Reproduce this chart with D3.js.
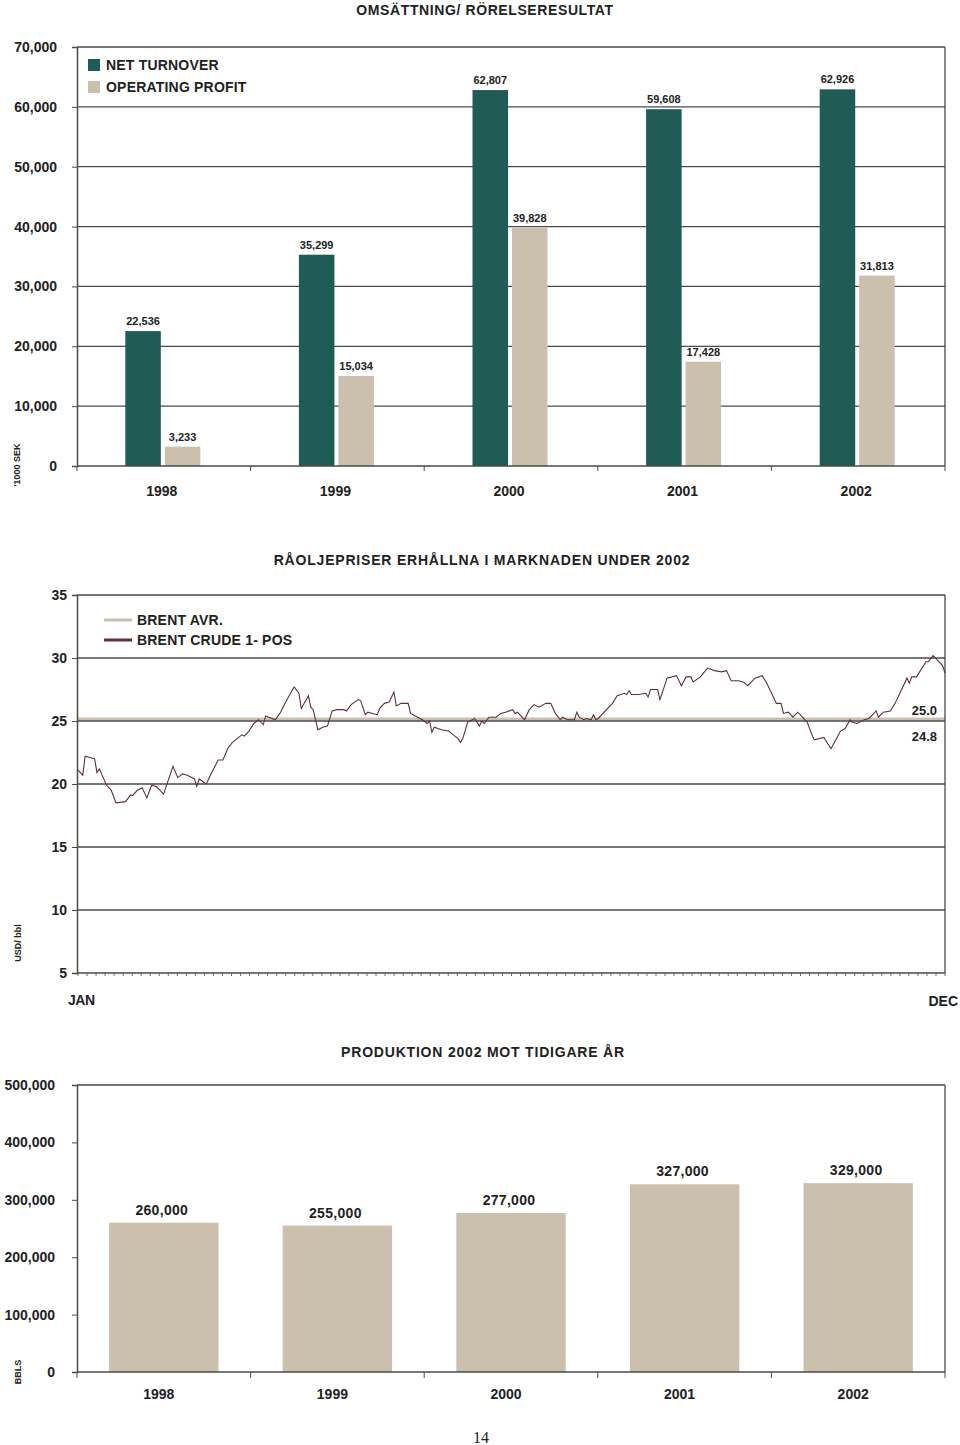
<!DOCTYPE html>
<html><head><meta charset="utf-8">
<script src="https://cdn.jsdelivr.net/npm/d3@7"></script>
<style>
body{margin:0;background:#fff;}
svg text{font-family:"Liberation Sans",Arial,Helvetica,sans-serif;font-weight:bold;fill:#222;}
</style></head>
<body><svg id="c" width="960" height="1445"></svg>
<script>
// ---------- data ----------
const years = ["1998","1999","2000","2001","2002"];
const netTurnover = [22536, 35299, 62807, 59608, 62926];
const operatingProfit = [3233, 15034, 39828, 17428, 31813];
const seriesNames = ["NET TURNOVER","OPERATING PROFIT"];
const turnoverTicks = [0,10000,20000,30000,40000,50000,60000,70000];

const priceTicks = [5,10,15,20,25,30,35];
const brentAvr = 25.0;
const crudeAvg = 24.8;
const priceDays = [0,2,3,5,7,8,9,12,14,16,20,22,23,25,27,29,31,33,36,40,42,44,46,49,50,51,54,56,59,61,63,65,67,69,70,72,74,76,78,79,83,85,88,91,93,94,97,98,99,101,103,105,107,109,112,113,115,118,119,121,122,124,126,127,129,131,133,134,136,139,140,143,145,147,148,149,150,153,156,158,160,161,162,164,166,167,169,170,171,173,176,178,180,183,184,185,188,190,192,194,197,199,200,201,203,204,206,209,210,211,213,214,216,217,218,219,223,225,227,230,231,232,233,235,236,239,240,241,244,245,248,252,254,256,258,259,262,265,268,271,273,275,278,280,282,285,288,290,292,294,296,297,299,301,303,305,307,309,310,314,317,319,321,323,325,326,328,331,333,336,337,339,342,344,346,349,350,351,353,357,358,360,362,364,365];
const priceValues = [21.1,20.7,22.2,22.1,22.0,20.9,21.2,19.9,19.5,18.5,18.6,19.1,19.1,19.5,19.7,18.9,19.9,19.8,19.2,21.4,20.5,20.8,20.7,20.4,19.8,20.4,20.0,20.8,21.9,21.9,22.8,23.3,23.6,23.9,23.8,24.2,24.8,25.1,24.7,25.4,25.1,25.6,26.7,27.7,27.2,26.0,27.0,26.1,25.9,24.3,24.5,24.6,25.8,25.9,25.9,25.8,26.3,26.7,26.6,25.5,25.7,25.6,25.5,26.0,26.4,26.5,27.3,26.2,26.4,26.4,25.6,25.3,25.1,24.8,25.0,24.1,24.5,24.3,24.2,23.9,23.6,23.3,23.6,24.9,25.1,25.2,24.6,25.0,24.8,25.3,25.3,25.6,25.7,25.9,25.6,25.7,25.1,25.9,26.3,26.1,26.4,26.4,26.0,25.6,25.1,25.3,25.1,25.1,25.7,25.3,25.1,25.2,25.1,25.5,25.1,25.2,26.0,26.4,27.0,27.2,27.1,27.4,27.1,27.1,27.1,27.2,26.9,27.5,27.5,26.7,28.4,28.6,27.8,28.5,28.5,28.1,28.5,29.2,29.0,28.9,29.0,28.2,28.2,28.1,27.8,28.4,28.6,28.0,27.2,26.4,26.4,25.6,25.7,25.3,25.7,25.3,24.9,23.9,23.5,23.7,22.8,23.5,24.2,24.4,25.1,24.9,24.8,25.1,25.2,25.8,25.3,25.7,25.8,26.4,27.2,28.4,28.0,28.5,28.5,29.7,29.7,30.2,29.8,29.4,28.8];
const priceSeriesNames = ["BRENT AVR.","BRENT CRUDE 1- POS"];

const production = [260000, 255000, 277000, 327000, 329000];
const productionTicks = [0,100000,200000,300000,400000,500000];

// ---------- styles ----------
const GREEN = "#1f5c55", BEIGE = "#cbc0ae", MAROON = "#5e3236", GRID = "#4a4a4a";
const svg = d3.select("#c");
const fmt = d3.format(",");
const L = 77, R = 945;

// ================= Chart 1 =================
{
  const top = 47, bot = 466;
  const y = d3.scaleLinear().domain([0,70000]).range([bot, top]);
  const x = d3.scaleBand().domain(years).range([L, R]);
  const xi = d3.scaleBand().domain(seriesNames).range([-38.5, 36.5]).paddingInner(0.1);
  const g = svg.append("g");
  g.append("text").attr("x", 485).attr("y", 15).attr("text-anchor","middle").attr("font-size",14).attr("letter-spacing","0.6").text("OMSÄTTNING/ RÖRELSERESULTAT");
  // grid
  g.selectAll(".gl").data(turnoverTicks.filter(d=>d>0)).join("line")
    .attr("x1", L).attr("x2", R).attr("y1", d=>y(d)).attr("y2", d=>y(d))
    .attr("stroke", GRID).attr("stroke-width", 1.3);
  // y axis
  const ya = g.append("g").attr("transform",`translate(${L},0)`).call(d3.axisLeft(y).tickValues(turnoverTicks).tickFormat(fmt).tickSize(5).tickPadding(15));
  ya.select(".domain").attr("stroke", GRID).attr("stroke-width",1.5);
  ya.selectAll(".tick line").attr("stroke", GRID);
  ya.selectAll("text").attr("font-size",14).attr("fill","#222").attr("font-family","Liberation Sans, Arial").attr("font-weight","bold");
  // right border
  g.append("line").attr("x1",R).attr("x2",R).attr("y1",top).attr("y2",bot).attr("stroke",GRID).attr("stroke-width",1.3);
  // bars
  const data = years.map((yr,i)=>({yr, vals:[{s:seriesNames[0], v:netTurnover[i]},{s:seriesNames[1], v:operatingProfit[i]}]}));
  const grp = g.selectAll(".yr").data(data).join("g").attr("transform", d=>`translate(${x(d.yr)+x.bandwidth()/2},0)`);
  grp.selectAll("rect").data(d=>d.vals).join("rect")
    .attr("x", d=>xi(d.s)).attr("width", xi.bandwidth())
    .attr("y", d=>y(d.v)).attr("height", d=>bot - y(d.v))
    .attr("fill", d=>d.s===seriesNames[0]?GREEN:BEIGE);
  grp.selectAll("text").data(d=>d.vals).join("text")
    .attr("x", d=>xi(d.s)+xi.bandwidth()/2).attr("y", d=>y(d.v)-6)
    .attr("text-anchor","middle").attr("font-size",11).text(d=>fmt(d.v));
  // x axis
  const xa = g.append("g").attr("transform",`translate(0,${bot})`);
  xa.append("line").attr("x1",L).attr("x2",R).attr("stroke",GRID).attr("stroke-width",1.5);
  xa.selectAll(".tk").data(years.concat(["end"])).join("line")
    .attr("x1",(d,i)=>L + i*x.step()).attr("x2",(d,i)=>L + i*x.step()).attr("y1",0).attr("y2",5).attr("stroke",GRID);
  xa.selectAll(".lb").data(years).join("text").attr("x", d=>x(d)+x.bandwidth()/2 - 2).attr("y", 30)
    .attr("text-anchor","middle").attr("font-size",14).text(d=>d);
  // legend
  seriesNames.forEach((s,i)=>{
    g.append("rect").attr("x",88).attr("y",59+i*22).attr("width",12).attr("height",12).attr("fill", i===0?GREEN:BEIGE);
    g.append("text").attr("x",106).attr("y",70+i*22).attr("font-size",14).attr("letter-spacing","0.2").text(s);
  });
  g.append("text").attr("transform","translate(20,465) rotate(-90)").attr("text-anchor","middle").attr("font-size",9).text("'1000 SEK");
}

// ================= Chart 2 =================
{
  const top = 595, bot = 973;
  const y = d3.scaleLinear().domain([5,35]).range([bot, top]);
  const x = d3.scaleLinear().domain([0,365]).range([L+1, R]);
  const g = svg.append("g");
  g.append("text").attr("x", 482).attr("y", 565).attr("text-anchor","middle").attr("font-size",14).attr("letter-spacing","0.8").text("RÅOLJEPRISER ERHÅLLNA I MARKNADEN UNDER 2002");
  // average line (beige)
  g.append("line").attr("x1",L).attr("x2",R).attr("y1",y(brentAvr)-2).attr("y2",y(brentAvr)-2).attr("stroke",BEIGE).attr("stroke-width",3);
  // grid
  g.selectAll(".gl").data(priceTicks.filter(d=>d>5)).join("line")
    .attr("x1", L).attr("x2", R).attr("y1", d=>y(d)).attr("y2", d=>y(d))
    .attr("stroke", GRID).attr("stroke-width", 1.3);
  const ya = g.append("g").attr("transform",`translate(${L},0)`).call(d3.axisLeft(y).tickValues(priceTicks).tickSize(5).tickPadding(5));
  ya.select(".domain").attr("stroke", GRID).attr("stroke-width",1.5);
  ya.selectAll(".tick line").attr("stroke", GRID);
  ya.selectAll("text").attr("font-size",14).attr("fill","#222").attr("font-family","Liberation Sans, Arial").attr("font-weight","bold");
  g.append("line").attr("x1",R).attr("x2",R).attr("y1",top).attr("y2",bot).attr("stroke",GRID).attr("stroke-width",1.3);
  // bottom axis with minor ticks
  g.append("line").attr("x1",L).attr("x2",R).attr("y1",bot).attr("y2",bot).attr("stroke",GRID).attr("stroke-width",1.5);
  g.selectAll(".mt").data(d3.range(0,366,365/96)).join("line")
    .attr("x1",d=>x(d)).attr("x2",d=>x(d)).attr("y1",bot).attr("y2",bot+3).attr("stroke",GRID).attr("stroke-width",0.8);
  g.append("text").attr("x",68).attr("y",1005).attr("font-size",14).attr("font-family","Liberation Sans Narrow, Arial Narrow, Liberation Sans").attr("letter-spacing","-0.5").text("JAN");
  g.append("text").attr("x",958).attr("y",1006).attr("text-anchor","end").attr("font-size",14).attr("font-family","Liberation Sans Narrow, Arial Narrow, Liberation Sans").text("DEC");
  // price line
  const pts = priceDays.map((d,i)=>[d, priceValues[i]]);
  g.append("path").datum(pts).attr("fill","none").attr("stroke",MAROON).attr("stroke-width",1.1)
    .attr("d", d3.line().x(d=>x(d[0])).y(d=>y(d[1])));
  // value labels
  g.append("text").attr("x",937).attr("y",y(brentAvr)-6).attr("text-anchor","end").attr("font-size",13).text(brentAvr.toFixed(1));
  g.append("text").attr("x",937).attr("y",y(crudeAvg)+17).attr("text-anchor","end").attr("font-size",13).text(crudeAvg.toFixed(1));
  // legend
  priceSeriesNames.forEach((s,i)=>{
    g.append("line").attr("x1",104).attr("x2",132).attr("y1",620+i*20).attr("y2",620+i*20).attr("stroke", i===0?BEIGE:MAROON).attr("stroke-width",3);
    g.append("text").attr("x",137).attr("y",625+i*20).attr("font-size",14).attr("letter-spacing","0.2").text(s);
  });
  g.append("text").attr("transform","translate(21,943) rotate(-90)").attr("text-anchor","middle").attr("font-size",9).text("USD/ bbl");
}

// ================= Chart 3 =================
{
  const top = 1085, bot = 1372;
  const y = d3.scaleLinear().domain([0,500000]).range([bot, top]);
  const x = d3.scaleBand().domain(years).range([L, R]).paddingInner(0.37).paddingOuter(0.185);
  const g = svg.append("g");
  g.append("text").attr("x", 483).attr("y", 1057).attr("text-anchor","middle").attr("font-size",14).attr("letter-spacing","0.8").text("PRODUKTION 2002 MOT TIDIGARE ÅR");
  g.append("line").attr("x1",L).attr("x2",R).attr("y1",top).attr("y2",top).attr("stroke",GRID).attr("stroke-width",1.3);
  g.append("line").attr("x1",R).attr("x2",R).attr("y1",top).attr("y2",bot).attr("stroke",GRID).attr("stroke-width",1.3);
  const ya = g.append("g").attr("transform",`translate(${L},0)`).call(d3.axisLeft(y).tickValues(productionTicks).tickFormat(fmt).tickSize(5).tickPadding(17));
  ya.select(".domain").attr("stroke", GRID).attr("stroke-width",1.5);
  ya.selectAll(".tick line").attr("stroke", GRID);
  ya.selectAll("text").attr("font-size",14).attr("fill","#222").attr("font-family","Liberation Sans, Arial").attr("font-weight","bold");
  g.selectAll("rect").data(production).join("rect")
    .attr("x",(d,i)=>x(years[i])).attr("width",x.bandwidth())
    .attr("y",d=>y(d)).attr("height",d=>bot-y(d)).attr("fill",BEIGE);
  g.selectAll(".vl").data(production).join("text")
    .attr("x",(d,i)=>x(years[i])+x.bandwidth()/2 - 2).attr("y",d=>y(d)-8)
    .attr("text-anchor","middle").attr("font-size",14).attr("letter-spacing","0.3").text(d=>fmt(d));
  const xa = g.append("g").attr("transform",`translate(0,${bot})`);
  xa.append("line").attr("x1",L).attr("x2",R).attr("stroke",GRID).attr("stroke-width",1.5);
  xa.selectAll(".tk").data(years.concat(["end"])).join("line")
    .attr("x1",(d,i)=>L + i*x.step()).attr("x2",(d,i)=>L + i*x.step()).attr("y1",0).attr("y2",6).attr("stroke",GRID);
  xa.selectAll(".lb").data(years).join("text").attr("x", d=>x(d)+x.bandwidth()/2 - 5).attr("y", 27)
    .attr("text-anchor","middle").attr("font-size",14).text(d=>d);
  g.append("text").attr("transform","translate(21,1372) rotate(-90)").attr("text-anchor","middle").attr("font-size",9).text("BBLS");
}
svg.append("text").attr("x",481).attr("y",1443).attr("text-anchor","middle").attr("font-size",16)
  .style("font-family","Liberation Serif, Times New Roman, serif").style("font-weight","normal").text("14");
</script></body></html>
